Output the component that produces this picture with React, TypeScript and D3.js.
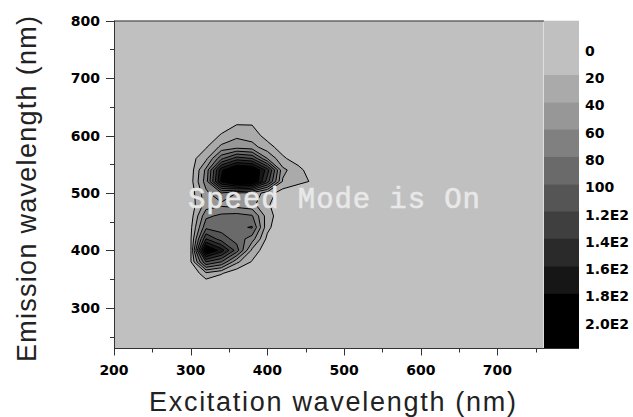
import React, { useEffect, useRef } from "react";
import * as d3 from "d3";

// grid of the excitation-emission map (nm)
const excitation = [260, 280, 300, 320, 340, 360, 380, 400, 420, 440, 460, 480, 500];
const emission = [660, 640, 620, 600, 580, 560, 540, 520, 500, 480, 460, 440, 420, 400, 380, 360, 340, 320];

// intensity rows, one per emission value (top to bottom)
const intensity = [
  [0, 0, 0, 0, 0, 0, 0, 0, 0, 0, 0, 0, 0],
  [0, 0, 0, 0, 0, 0, 0, 0, 0, 0, 0, 0, 0],
  [0, 0, 0, 0, 10, 19, 19, 5, 0, 0, 0, 0, 0],
  [0, 0, 0, 8, 22, 36, 30, 12, 0, 0, 0, 0, 0],
  [0, 0, 5, 18, 45, 52, 48, 28, 10, 0, 0, 0, 0],
  [0, 0, 12, 35, 95, 130, 120, 60, 24, 8, 0, 0, 0],
  [0, 0, 10, 65, 175, 215, 210, 150, 45, 28, 5, 0, 0],
  [0, 0, 12, 70, 185, 225, 215, 130, 38, 27, 17, 0, 0],
  [0, 0, 8, 55, 80, 60, 55, 30, 10, 0, 0, 0, 0],
  [0, 0, 8, 48, 55, 50, 45, 24, 0, 0, 0, 0, 0],
  [0, 0, 10, 75, 85, 88, 82, 30, 5, 0, 0, 0, 0],
  [0, 0, 15, 95, 92, 95, 102, 26, 0, 0, 0, 0, 0],
  [0, 0, 17, 140, 110, 92, 70, 14, 0, 0, 0, 0, 0],
  [0, 0, 17, 210, 170, 110, 35, 5, 0, 0, 0, 0, 0],
  [0, 0, 18, 120, 100, 45, 18, 0, 0, 0, 0, 0, 0],
  [0, 0, 0, 35, 22, 5, 0, 0, 0, 0, 0, 0, 0],
  [0, 0, 0, 5, 0, 0, 0, 0, 0, 0, 0, 0, 0],
  [0, 0, 0, 0, 0, 0, 0, 0, 0, 0, 0, 0, 0]
];

const levels = [20, 40, 60, 80, 100, 120, 140, 160, 180, 200];
const levelColors = ["#aaaaaa", "#979797", "#808080", "#6a6a6a", "#555555", "#3f3f3f", "#2a2a2a", "#161616", "#000000", "#000000"];
const legendLabels = ["0", "20", "40", "60", "80", "100", "1.2E2", "1.4E2", "1.6E2", "1.8E2", "2.0E2"];

const xTicks = [200, 300, 400, 500, 600, 700];
const xMinor = [250, 350, 450, 550, 650, 750];
const yTicks = [300, 400, 500, 600, 700, 800];
const yMinor = [250, 350, 450, 550, 650, 750];

const App = () => {
  const chartRef = useRef<HTMLDivElement>(null);

  useEffect(() => {
    document.body.style.margin = "0";
    const width = 633;
    const height = 417;
    const bg = "#c0c0c0";

    const x = d3.scaleLinear().domain([200, 760]).range([114, 543.5]);
    const y = d3.scaleLinear().domain([230, 800]).range([348, 20.7]);

    const svg = d3.select(chartRef.current)
      .append("svg")
      .attr("width", width)
      .attr("height", height)
      .style("display", "block")
      .style("background", "#fff");

    // plot background
    svg.append("rect")
      .attr("x", x(200)).attr("y", y(800))
      .attr("width", x(760) - x(200)).attr("height", y(230) - y(800))
      .attr("fill", bg);

    // contours
    const n = excitation.length;
    const m = emission.length;
    const gx = d3.scaleLinear().domain([0.5, n - 0.5]).range([excitation[0], excitation[n - 1]]);
    const gy = d3.scaleLinear().domain([0.5, m - 0.5]).range([emission[0], emission[m - 1]]);
    const contours = d3.contours().size([n, m]).thresholds(levels)(intensity.flat());
    const proj = d3.geoTransform({
      point: function (px, py) {
        this.stream.point(x(gx(px)), y(gy(py)));
      }
    });
    const path = d3.geoPath(proj);

    svg.append("g")
      .selectAll("path")
      .data(contours)
      .join("path")
      .attr("d", path)
      .attr("fill", (d, i) => levelColors[i])
      .attr("stroke", "#000")
      .attr("stroke-width", 1)
      .attr("stroke-linejoin", "round");

    // legend
    const yL = d3.scaleLinear().domain([1, 11]).range([75, 348]);
    const lx = 544, lw = 35;
    svg.append("rect")
      .attr("x", lx).attr("y", y(800))
      .attr("width", lw).attr("height", yL(1) - y(800))
      .attr("fill", bg);
    svg.append("g")
      .selectAll("rect")
      .data(levels)
      .join("rect")
      .attr("x", lx)
      .attr("y", (d, i) => yL(i + 1))
      .attr("width", lw)
      .attr("height", yL(2) - yL(1) + 0.5)
      .attr("fill", (d, i) => levelColors[i]);
    svg.append("g")
      .selectAll("text")
      .data(legendLabels)
      .join("text")
      .attr("x", 585)
      .attr("y", (d, i) => yL(i) + 3)
      .attr("dy", "0.36em")
      .style("font", "bold 14px 'DejaVu Sans', sans-serif")
      .attr("fill", "#000")
      .text(d => d);

    // axes
    const axisColor = "#333";
    const ax = svg.append("g").attr("stroke", axisColor).attr("stroke-width", 1);
    ax.append("line").attr("x1", x(200)).attr("x2", 579).attr("y1", 348.5).attr("y2", 348.5);
    ax.append("line").attr("x1", 114.5).attr("x2", 114.5).attr("y1", y(800)).attr("y2", 349);
    ax.append("line").attr("x1", 114).attr("x2", lx).attr("y1", 21).attr("y2", 21);

    ax.selectAll(".xt").data(xTicks).join("line")
      .attr("x1", d => Math.round(x(d)) + 0.5).attr("x2", d => Math.round(x(d)) + 0.5)
      .attr("y1", 348.5).attr("y2", 355.5);
    ax.selectAll(".xm").data(xMinor).join("line")
      .attr("x1", d => Math.round(x(d)) + 0.5).attr("x2", d => Math.round(x(d)) + 0.5)
      .attr("y1", 348.5).attr("y2", 352.5);
    ax.selectAll(".yt").data(yTicks).join("line")
      .attr("x1", 106).attr("x2", 114.5)
      .attr("y1", d => Math.round(y(d)) + 0.5).attr("y2", d => Math.round(y(d)) + 0.5);
    ax.selectAll(".ym").data(yMinor).join("line")
      .attr("x1", 110).attr("x2", 114.5)
      .attr("y1", d => Math.round(y(d)) + 0.5).attr("y2", d => Math.round(y(d)) + 0.5);

    const tickFont = "bold 14px 'DejaVu Sans', sans-serif";
    svg.append("g").selectAll("text").data(xTicks).join("text")
      .attr("x", d => x(d)).attr("y", 375)
      .attr("text-anchor", "middle")
      .style("font", tickFont)
      .text(d => d);
    svg.append("g").selectAll("text").data(yTicks).join("text")
      .attr("x", 100).attr("y", d => y(d))
      .attr("dy", "0.36em")
      .attr("text-anchor", "end")
      .style("font", tickFont)
      .text(d => d);

    // axis titles
    const titleFont = "27px 'Liberation Sans', Arial, sans-serif";
    svg.append("text")
      .attr("x", 332.5).attr("y", 411)
      .attr("text-anchor", "middle")
      .attr("textLength", 367)
      .attr("lengthAdjust", "spacing")
      .style("font", titleFont)
      .attr("fill", "#222")
      .text("Excitation wavelength (nm)");
    svg.append("text")
      .attr("transform", "translate(36,189) rotate(-90)")
      .attr("text-anchor", "middle")
      .attr("textLength", 346)
      .attr("lengthAdjust", "spacing")
      .style("font", titleFont)
      .attr("fill", "#222")
      .text("Emission wavelength (nm)");

    // watermark
    svg.append("text")
      .attr("x", 188).attr("y", 208)
      .attr("textLength", 292)
      .attr("lengthAdjust", "spacing")
      .style("font", "29px 'Liberation Mono', 'Courier New', monospace")
      .attr("fill", "#e8e8e8")
      .attr("stroke", "#e8e8e8")
      .attr("stroke-width", 0.6)
      .text("Speed Mode is On");

    return () => {
      d3.select(chartRef.current).select("svg").remove();
    };
  }, []);

  return <div ref={chartRef}></div>;
};

export default App;
